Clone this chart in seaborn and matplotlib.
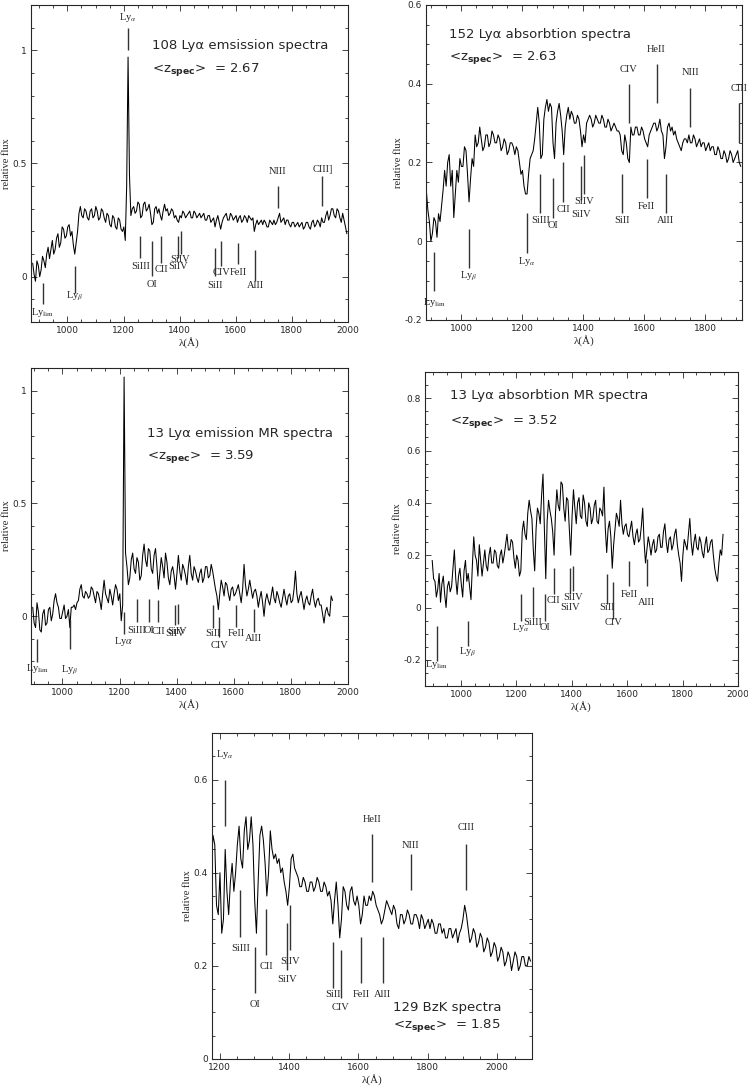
import numpy as np
import matplotlib
matplotlib.use("Agg")
import matplotlib.pyplot as plt
import seaborn as sns
from matplotlib.ticker import MultipleLocator, FuncFormatter

# ---------------- data ----------------
# each spectrum: first wavelength, then fluxes every 5 A
p1_start = 876
p1_flux = [0.06, 0.01, -0.02, 0.07, 0.05, 0.00, 0.03, 0.09, 0.07, 0.04, 0.10, 0.13, 0.08, 0.12, 0.16, 0.10,
           0.12, 0.17, 0.19, 0.13, 0.15, 0.22, 0.21, 0.17, 0.18, 0.22, 0.23, 0.18, 0.20, 0.14, 0.10, 0.15,
           0.20, 0.28, 0.31, 0.27, 0.26, 0.30, 0.29, 0.26, 0.25, 0.29, 0.30, 0.26, 0.27, 0.31, 0.29, 0.25,
           0.26, 0.30, 0.29, 0.26, 0.24, 0.28, 0.27, 0.23, 0.22, 0.27, 0.26, 0.22, 0.21, 0.26, 0.25, 0.21,
           0.20, 0.22, 0.16, 0.40, 0.97, 0.45, 0.27, 0.30, 0.31, 0.28, 0.29, 0.33, 0.32, 0.26, 0.27, 0.32,
           0.33, 0.29, 0.30, 0.32, 0.28, 0.23, 0.24, 0.30, 0.31, 0.28, 0.30, 0.27, 0.25, 0.29, 0.32, 0.29,
           0.30, 0.27, 0.28, 0.30, 0.29, 0.26, 0.27, 0.25, 0.24, 0.27, 0.26, 0.29, 0.28, 0.26, 0.27, 0.28,
           0.29, 0.26, 0.26, 0.29, 0.28, 0.26, 0.27, 0.28, 0.26, 0.27, 0.28, 0.25, 0.25, 0.27, 0.27, 0.24,
           0.25, 0.26, 0.22, 0.25, 0.27, 0.24, 0.21, 0.24, 0.26, 0.27, 0.28, 0.25, 0.25, 0.28, 0.27, 0.25,
           0.26, 0.27, 0.24, 0.26, 0.27, 0.24, 0.25, 0.27, 0.26, 0.24, 0.27, 0.26, 0.25, 0.26, 0.20, 0.23,
           0.25, 0.23, 0.24, 0.25, 0.23, 0.25, 0.24, 0.22, 0.22, 0.25, 0.24, 0.23, 0.25, 0.23, 0.24, 0.26,
           0.28, 0.24, 0.25, 0.26, 0.23, 0.25, 0.25, 0.23, 0.22, 0.24, 0.24, 0.22, 0.23, 0.24, 0.22, 0.23,
           0.24, 0.21, 0.22, 0.24, 0.24, 0.22, 0.21, 0.24, 0.25, 0.22, 0.23, 0.25, 0.24, 0.22, 0.26, 0.24,
           0.24, 0.27, 0.29, 0.25, 0.27, 0.30, 0.30, 0.27, 0.26, 0.30, 0.29, 0.26, 0.24, 0.28, 0.25, 0.22,
           0.19]

p2_start = 886
p2_flux = [0.13, 0.08, 0.05, 0.00, 0.02, 0.06, 0.05, 0.01, 0.07, 0.05, 0.09, 0.13, 0.18, 0.14, 0.20, 0.22,
           0.14, 0.18, 0.06, 0.12, 0.18, 0.15, 0.21, 0.19, 0.19, 0.24, 0.23, 0.17, 0.10, 0.16, 0.21, 0.19,
           0.27, 0.24, 0.25, 0.29, 0.26, 0.23, 0.24, 0.27, 0.27, 0.24, 0.25, 0.28, 0.27, 0.25, 0.25, 0.27,
           0.26, 0.23, 0.24, 0.26, 0.25, 0.22, 0.23, 0.25, 0.25, 0.24, 0.22, 0.24, 0.23, 0.20, 0.17, 0.18,
           0.14, 0.12, 0.12, 0.17, 0.21, 0.22, 0.23, 0.26, 0.30, 0.34, 0.30, 0.21, 0.22, 0.31, 0.34, 0.36,
           0.33, 0.35, 0.34, 0.25, 0.21, 0.30, 0.33, 0.35, 0.32, 0.28, 0.22, 0.29, 0.32, 0.34, 0.31, 0.33,
           0.32, 0.30, 0.30, 0.32, 0.31, 0.28, 0.24, 0.27, 0.25, 0.30, 0.31, 0.32, 0.31, 0.29, 0.30, 0.32,
           0.31, 0.30, 0.30, 0.32, 0.31, 0.29, 0.29, 0.31, 0.30, 0.28, 0.29, 0.30, 0.29, 0.28, 0.28, 0.27,
           0.23, 0.22, 0.27, 0.25, 0.21, 0.20, 0.29, 0.27, 0.27, 0.29, 0.29, 0.27, 0.27, 0.29, 0.28, 0.26,
           0.25, 0.24, 0.27, 0.28, 0.29, 0.30, 0.30, 0.28, 0.29, 0.31, 0.28, 0.27, 0.21, 0.24, 0.29, 0.30,
           0.28, 0.29, 0.27, 0.28, 0.26, 0.25, 0.24, 0.23, 0.25, 0.26, 0.26, 0.25, 0.27, 0.25, 0.25, 0.27,
           0.26, 0.24, 0.25, 0.26, 0.24, 0.25, 0.25, 0.23, 0.24, 0.25, 0.23, 0.24, 0.24, 0.22, 0.22, 0.24,
           0.23, 0.21, 0.21, 0.23, 0.22, 0.20, 0.21, 0.23, 0.22, 0.20, 0.21, 0.22, 0.23, 0.20, 0.19]

p3_start = 896
p3_flux = [0.04, -0.03, -0.05, 0.06, 0.02, -0.06, -0.07, 0.01, 0.03, -0.04, -0.03, 0.03, 0.04, -0.02,
           0.01, 0.07, 0.10, 0.06, 0.04, -0.01, -0.01, 0.02, 0.05, -0.01, 0.00, 0.03, -0.05, 0.04, 0.04,
           0.05, 0.03, 0.06, 0.07, 0.12, 0.14, 0.09, 0.08, 0.11, 0.10, 0.08, 0.09, 0.13, 0.12, 0.09, 0.06,
           0.11, 0.10, 0.07, 0.03, 0.10, 0.16, 0.10, 0.08, 0.06, 0.12, 0.09, 0.05, 0.10, 0.14, 0.12, 0.07,
           0.10, -0.02, 0.05, 1.06, 0.28, 0.22, 0.14, 0.17, 0.25, 0.28, 0.21, 0.19, 0.26, 0.24, 0.16, 0.18,
           0.27, 0.32, 0.25, 0.22, 0.30, 0.29, 0.21, 0.19, 0.27, 0.30, 0.22, 0.12, 0.19, 0.26, 0.22, 0.17,
           0.28, 0.24, 0.17, 0.14, 0.20, 0.22, 0.18, 0.12, 0.19, 0.27, 0.20, 0.16, 0.23, 0.21, 0.18, 0.14,
           0.22, 0.27, 0.19, 0.16, 0.22, 0.20, 0.17, 0.15, 0.19, 0.21, 0.15, 0.17, 0.22, 0.22, 0.17, 0.18,
           0.23, 0.20, 0.16, 0.12, 0.09, 0.03, 0.10, 0.16, 0.13, 0.09, 0.15, 0.14, 0.10, 0.07, 0.12, 0.13,
           0.09, 0.10, 0.12, 0.14, 0.10, 0.06, 0.12, 0.23, 0.14, 0.09, 0.12, 0.16, 0.12, 0.08, 0.11, 0.12,
           0.09, 0.04, 0.08, 0.11, 0.06, 0.00, 0.07, 0.10, 0.07, 0.05, 0.09, 0.13, 0.08, 0.06, 0.11, 0.09,
           0.06, 0.04, 0.08, 0.12, 0.08, 0.05, 0.09, 0.10, 0.06, 0.07, 0.12, 0.20, 0.10, 0.06, 0.09, 0.11,
           0.07, 0.03, 0.07, 0.09, 0.06, 0.05, 0.09, 0.12, 0.07, 0.04, 0.07, 0.08, 0.05, 0.05, 0.01, -0.03,
           0.02, 0.04, 0.01, 0.00, 0.09, 0.07]

p4_start = 896
p4_flux = [0.18, 0.11, 0.10, 0.04, 0.07, 0.13, 0.02, 0.09, 0.12, 0.05, 0.00, 0.08, 0.10, 0.06, 0.08,
           0.15, 0.22, 0.11, 0.05, 0.12, 0.15, 0.09, 0.04, 0.14, 0.18, 0.10, 0.13, 0.08, 0.03, 0.16, 0.27,
           0.20, 0.18, 0.12, 0.24, 0.18, 0.12, 0.17, 0.22, 0.16, 0.14, 0.20, 0.23, 0.17, 0.17, 0.22, 0.21,
           0.16, 0.15, 0.20, 0.22, 0.17, 0.20, 0.24, 0.28, 0.22, 0.22, 0.26, 0.25, 0.19, 0.15, 0.20, 0.18,
           0.12, 0.14, 0.29, 0.33, 0.28, 0.26, 0.36, 0.41, 0.37, 0.34, 0.22, 0.14, 0.30, 0.38, 0.36, 0.32,
           0.43, 0.51, 0.30, 0.11, 0.33, 0.41, 0.37, 0.34, 0.29, 0.20, 0.36, 0.45, 0.39, 0.37, 0.48, 0.47,
           0.38, 0.33, 0.42, 0.41, 0.30, 0.20, 0.35, 0.45, 0.38, 0.32, 0.40, 0.42, 0.35, 0.34, 0.43, 0.40,
           0.33, 0.31, 0.40, 0.38, 0.32, 0.34, 0.39, 0.41, 0.33, 0.32, 0.38, 0.37, 0.35, 0.46, 0.30, 0.21,
           0.30, 0.33, 0.27, 0.15, 0.24, 0.30, 0.36, 0.34, 0.31, 0.41, 0.32, 0.28, 0.31, 0.32, 0.28, 0.27,
           0.30, 0.33, 0.27, 0.24, 0.28, 0.30, 0.25, 0.26, 0.31, 0.38, 0.25, 0.17, 0.22, 0.27, 0.24, 0.20,
           0.24, 0.26, 0.21, 0.22, 0.27, 0.28, 0.23, 0.23, 0.29, 0.32, 0.25, 0.21, 0.26, 0.27, 0.22, 0.24,
           0.28, 0.30, 0.24, 0.20, 0.17, 0.10, 0.20, 0.26, 0.24, 0.22, 0.28, 0.34, 0.25, 0.20, 0.25, 0.28,
           0.23, 0.22, 0.27, 0.25, 0.21, 0.19, 0.24, 0.27, 0.21, 0.22, 0.25, 0.26, 0.20, 0.15, 0.12, 0.10,
           0.17, 0.22, 0.20, 0.28]

p5_start = 1176
p5_flux = [0.42, 0.48, 0.46, 0.33, 0.31, 0.40, 0.27, 0.30, 0.45, 0.36, 0.31, 0.38, 0.42, 0.36, 0.40,
           0.46, 0.50, 0.43, 0.41, 0.49, 0.52, 0.45, 0.47, 0.52, 0.46, 0.34, 0.27, 0.38, 0.48, 0.50, 0.47,
           0.42, 0.35, 0.40, 0.49, 0.45, 0.43, 0.44, 0.42, 0.43, 0.40, 0.41, 0.38, 0.36, 0.33, 0.37, 0.43,
           0.44, 0.41, 0.40, 0.39, 0.37, 0.37, 0.39, 0.38, 0.36, 0.36, 0.38, 0.38, 0.36, 0.37, 0.39, 0.38,
           0.36, 0.36, 0.38, 0.37, 0.35, 0.36, 0.34, 0.29, 0.34, 0.38, 0.33, 0.26, 0.30, 0.37, 0.36, 0.33,
           0.32, 0.36, 0.37, 0.34, 0.33, 0.35, 0.33, 0.29, 0.31, 0.35, 0.33, 0.33, 0.35, 0.34, 0.36, 0.35,
           0.33, 0.32, 0.31, 0.29, 0.30, 0.32, 0.34, 0.33, 0.32, 0.31, 0.33, 0.32, 0.29, 0.28, 0.31, 0.31,
           0.29, 0.30, 0.32, 0.31, 0.29, 0.29, 0.31, 0.31, 0.30, 0.28, 0.31, 0.30, 0.28, 0.29, 0.30, 0.28,
           0.30, 0.29, 0.27, 0.27, 0.29, 0.29, 0.27, 0.28, 0.26, 0.26, 0.28, 0.28, 0.26, 0.27, 0.28, 0.25,
           0.27, 0.28, 0.30, 0.33, 0.31, 0.28, 0.25, 0.26, 0.28, 0.27, 0.24, 0.25, 0.27, 0.26, 0.23, 0.24,
           0.26, 0.25, 0.22, 0.23, 0.25, 0.24, 0.21, 0.22, 0.24, 0.23, 0.20, 0.21, 0.23, 0.22, 0.19, 0.21,
           0.23, 0.22, 0.19, 0.20, 0.22, 0.22, 0.20, 0.20, 0.22, 0.21]

# line identifications: (label, wavelength, seg_low, seg_high, label_y)
LA = r"Ly$_{\alpha}$"
LB = r"Ly$_{\beta}$"
LL = r"Ly$_{\rm lim}$"
p1_lines = [(LA, 1216, 1.003, 1.099, 1.143), (LL, 912, -0.122, -0.026, -0.159),
            (LB, 1026, -0.071, 0.047, -0.085), ("SiIII", 1260, 0.084, 0.179, 0.047),
            ("OI", 1302, 0.003, 0.157, -0.034), ("CII", 1335, 0.062, 0.179, 0.032),
            ("SiIV", 1394, 0.084, 0.18, 0.047), ("SiIV", 1403, 0.10, 0.20, 0.076),
            ("SiII", 1527, 0.003, 0.128, -0.041), ("CIV", 1549, 0.047, 0.157, 0.018),
            ("FeII", 1608, 0.054, 0.15, 0.018), ("AlII", 1670, -0.02, 0.12, -0.041),
            ("NIII", 1750, 0.304, 0.40, 0.466), ("CIII]", 1909, 0.312, 0.444, 0.474)]
p2_lines = [(LL, 912, -0.126, -0.027, -0.155), (LB, 1026, -0.068, 0.03, -0.089),
            (LA, 1216, -0.03, 0.073, -0.051), ("SiIII", 1260, 0.073, 0.17, 0.052),
            ("OI", 1302, 0.06, 0.16, 0.04), ("CII", 1335, 0.10, 0.20, 0.081),
            ("SiIV", 1394, 0.106, 0.19, 0.069), ("SiIV", 1403, 0.12, 0.22, 0.102),
            ("SiII", 1527, 0.073, 0.17, 0.052), ("CIV", 1549, 0.30, 0.40, 0.437),
            ("HeII", 1640, 0.35, 0.45, 0.487), ("FeII", 1608, 0.11, 0.21, 0.089),
            ("AlII", 1670, 0.073, 0.17, 0.052), ("NIII", 1750, 0.29, 0.39, 0.429),
            ("CIII", 1909, 0.25, 0.35, 0.388)]
p3_lines = [(LL, 912, -0.202, -0.099, -0.231), (LB, 1026, -0.143, -0.018, -0.239),
            (r"Ly$\alpha$", 1216, -0.077, 0.019, -0.113), ("SiIII", 1260, -0.025, 0.078, -0.062),
            ("OI", 1302, -0.025, 0.078, -0.062), ("CII", 1335, -0.025, 0.071, -0.069),
            ("SiIV", 1394, -0.04, 0.049, -0.077), ("SiIV", 1403, -0.032, 0.056, -0.066),
            ("SiII", 1527, -0.054, 0.049, -0.077), ("CIV", 1549, -0.091, -0.003, -0.128),
            ("FeII", 1608, -0.047, 0.049, -0.077), ("AlII", 1670, -0.069, 0.031, -0.099)]
p4_lines = [(LL, 912, -0.205, -0.07, -0.218), (LB, 1026, -0.147, -0.051, -0.173),
            (LA, 1216, -0.051, 0.051, -0.077), ("SiIII", 1260, -0.038, 0.077, -0.058),
            ("OI", 1302, -0.051, 0.051, -0.077), ("CII", 1335, 0.051, 0.15, 0.026),
            ("SiIV", 1394, 0.051, 0.15, 0.0), ("SiIV", 1403, 0.064, 0.157, 0.038),
            ("SiII", 1527, 0.013, 0.128, 0.0), ("CIV", 1549, -0.045, 0.099, -0.058),
            ("FeII", 1608, 0.083, 0.179, 0.051), ("AlII", 1670, 0.083, 0.186, 0.019)]
p5_lines = [(LA, 1216, 0.50, 0.60, 0.653), ("SiIII", 1260, 0.263, 0.362, 0.238),
            ("OI", 1302, 0.142, 0.241, 0.117), ("CII", 1335, 0.224, 0.323, 0.199),
            ("SiIV", 1394, 0.192, 0.291, 0.17), ("SiIV", 1403, 0.234, 0.33, 0.21),
            ("SiII", 1527, 0.153, 0.252, 0.138), ("CIV", 1549, 0.131, 0.234, 0.11),
            ("FeII", 1608, 0.163, 0.263, 0.138), ("AlII", 1670, 0.163, 0.263, 0.138),
            ("HeII", 1640, 0.38, 0.483, 0.515), ("NIII", 1750, 0.362, 0.44, 0.458),
            ("CIII", 1909, 0.362, 0.462, 0.497)]

p1_title = ["108 Ly\u03b1 emsission spectra", r"<z$_{\bf spec}$>  = 2.67"]
p2_title = ["152 Ly\u03b1 absorbtion spectra", r"<z$_{\bf spec}$>  = 2.63"]
p3_title = ["13 Ly\u03b1 emission MR spectra", r"<z$_{\bf spec}$>  = 3.59"]
p4_title = ["13 Ly\u03b1 absorbtion MR spectra", r"<z$_{\bf spec}$>  = 3.52"]
p5_title = ["129 BzK spectra", r"<z$_{\bf spec}$>  = 1.85"]

# ---------------- figure ----------------
sns.set_style("ticks")
plt.rcParams["font.family"] = ["DejaVu Sans"]

W, H = 748, 1089
fig = plt.figure(figsize=(W / 100, H / 100), dpi=100)

panels = [
    dict(box=(31, 5, 348, 322), xlim=(870, 2000), ylim=(-0.2, 1.2), ymaj=0.5, ymin=0.1,
         start=p1_start, flux=p1_flux, lines=p1_lines, title=p1_title, tpos=(1300, 1.02, 0.915)),
    dict(box=(426, 5, 742, 320), xlim=(885, 1920), ylim=(-0.2, 0.6), ymaj=0.2, ymin=0.05,
         start=p2_start, flux=p2_flux, lines=p2_lines, title=p2_title, tpos=(961, 0.524, 0.466)),
    dict(box=(31, 368, 348, 684), xlim=(890, 2000), ylim=(-0.3, 1.1), ymaj=0.5, ymin=0.1,
         start=p3_start, flux=p3_flux, lines=p3_lines, title=p3_title, tpos=(1297, 0.81, 0.71)),
    dict(box=(425, 372, 738, 686), xlim=(870, 2000), ylim=(-0.3, 0.9), ymaj=0.2, ymin=0.05,
         start=p4_start, flux=p4_flux, lines=p4_lines, title=p4_title, tpos=(960, 0.81, 0.71)),
    dict(box=(212, 733, 532, 1059), xlim=(1178, 2100), ylim=(0.0, 0.7), ymaj=0.2, ymin=0.05,
         start=p5_start, flux=p5_flux, lines=p5_lines, title=p5_title, tpos=(1700, 0.11, 0.071)),
]

fmt = FuncFormatter(lambda v, p: "%g" % round(v, 3))

for P in panels:
    l, t, r, b = P["box"]
    ax = fig.add_axes([l / W, 1 - b / H, (r - l) / W, (b - t) / H])
    flux = np.array(P["flux"])
    wave = P["start"] + 5 * np.arange(len(flux))
    sns.lineplot(x=wave, y=flux, ax=ax, color="black", linewidth=0.75,
                 estimator=None, sort=False)
    ax.set_xlim(*P["xlim"])
    ax.set_ylim(*P["ylim"])
    ax.xaxis.set_major_locator(MultipleLocator(200))
    ax.xaxis.set_minor_locator(MultipleLocator(50))
    ax.yaxis.set_major_locator(MultipleLocator(P["ymaj"]))
    ax.yaxis.set_minor_locator(MultipleLocator(P["ymin"]))
    ax.yaxis.set_major_formatter(fmt)
    ax.tick_params(which="both", direction="in", top=True, right=True,
                   width=0.6, labelsize=6.5, pad=3)
    ax.tick_params(which="major", length=4)
    ax.tick_params(which="minor", length=2)
    for s in ax.spines.values():
        s.set_linewidth(0.8)
        s.set_color("0.15")
    ax.set_xlabel("\u03bb(\u00c5)", family="Liberation Serif", fontsize=8, labelpad=1)
    ax.set_ylabel("relative flux", family="Liberation Serif", fontsize=7.5, labelpad=1)

    for name, wl, y0, y1, ty in P["lines"]:
        ax.vlines(wl, y0, y1, color="0.2", linewidth=1.0)
        ax.text(wl, ty, name, ha="center", va="center", fontsize=7.5,
                family="Liberation Serif", math_fontfamily="stix")

    tx, ty1, ty2 = P["tpos"]
    ax.text(tx, ty1, P["title"][0], ha="left", va="center", fontsize=9.5,
            family="DejaVu Sans")
    ax.text(tx, ty2, P["title"][1], ha="left", va="center", fontsize=9.5,
            family="DejaVu Sans", math_fontfamily="dejavusans")

fig.savefig("out.png", dpi=100)
